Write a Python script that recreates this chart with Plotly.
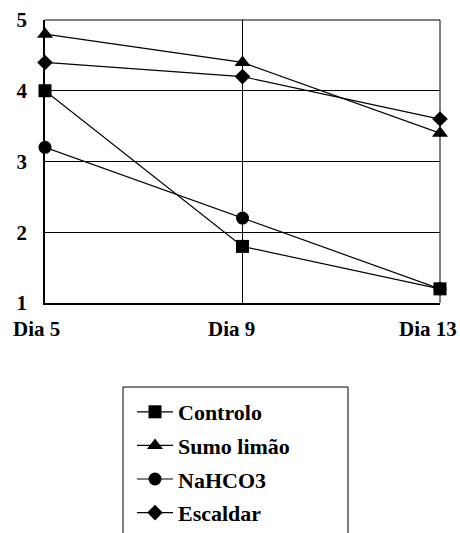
import plotly.graph_objects as go

days = ["Dia 5", "Dia 9", "Dia 13"]
controlo = [4.0, 1.8, 1.2]
sumo_limao = [4.8, 4.4, 3.4]
nahco3 = [3.2, 2.2, 1.2]
escaldar = [4.4, 4.2, 3.6]
y_ticks = [1, 2, 3, 4, 5]

series = [
    ("Controlo", controlo, "square", 13),
    ("Sumo limão", sumo_limao, "triangle-up", 14),
    ("NaHCO3", nahco3, "circle", 13),
    ("Escaldar", escaldar, "diamond", 12),
]

xpos = list(range(len(days)))
FONT = "Liberation Serif"
W, H = 460, 533
L, R, T = 45, 20, 20
PLOT_BOTTOM = 303  # px from top
PW = W - L - R
PH = H - T


def px_x(p):
    return (p - L) / PW


def px_y(p):
    return (H - p) / PH


fig = go.Figure()
for i, (name, vals, sym, sz) in enumerate(series):
    fig.add_trace(go.Scatter(
        x=xpos, y=vals, name=f"<b>{name}</b>", mode="lines+markers",
        line=dict(color="black", width=1.2),
        marker=dict(symbol=sym, size=sz, color="black"),
        legendgroup=f"g{i}",
        cliponaxis=False,
    ))

annotations = []
shifts = [-9, -11, -12]
for xv, lab, sh in zip(xpos, days, shifts):
    annotations.append(dict(
        x=xv, y=0, xref="x", yref="y domain", yanchor="top", yshift=-12, xshift=sh,
        text=f"<b>{lab}</b>", showarrow=False,
        font=dict(family=FONT, size=21, color="black"),
    ))

fig.update_layout(
    width=W, height=H,
    margin=dict(l=L, r=R, t=T, b=0, autoexpand=False),
    paper_bgcolor="white", plot_bgcolor="white",
    showlegend=True,
    font=dict(family=FONT, color="black"),
    xaxis=dict(
        range=[0, 2], tickvals=xpos, showticklabels=False,
        showgrid=True, gridcolor="black", gridwidth=1,
        zeroline=False, showline=True, linecolor="black", linewidth=1.5,
        fixedrange=True,
    ),
    yaxis=dict(
        domain=[px_y(PLOT_BOTTOM), 1],
        range=[1, 5], tickvals=y_ticks,
        ticktext=[f"<b>{v}</b>" for v in y_ticks],
        tickfont=dict(family=FONT, size=21, color="black"),
        showgrid=True, gridcolor="black", gridwidth=1,
        zeroline=False, showline=True, linecolor="black", linewidth=1.5,
        ticks="", ticklabelstandoff=12, fixedrange=True,
    ),
    legend=dict(
        x=px_x(132), y=px_y(391), xanchor="left", yanchor="top",
        borderwidth=0, bgcolor="rgba(0,0,0,0)",
        font=dict(family=FONT, size=22, color="black"),
        tracegroupgap=2, itemwidth=36,
    ),
    annotations=annotations,
)
# plot frame (top and right)
fig.add_shape(type="line", xref="x domain", yref="y domain", x0=1, x1=1, y0=0, y1=1,
              line=dict(color="black", width=1))
fig.add_shape(type="line", xref="x domain", yref="y domain", x0=0, x1=1, y0=1, y1=1,
              line=dict(color="black", width=1))
# legend box (bottom edge falls outside the page, as in the reference)
fig.add_shape(type="rect", xref="paper", yref="paper",
              x0=px_x(123), x1=px_x(348), y0=-0.1, y1=px_y(387),
              line=dict(color="black", width=1), layer="below")

fig.write_html("out.html", config={"displayModeBar": False},
               post_script="document.body.style.margin='0';")
